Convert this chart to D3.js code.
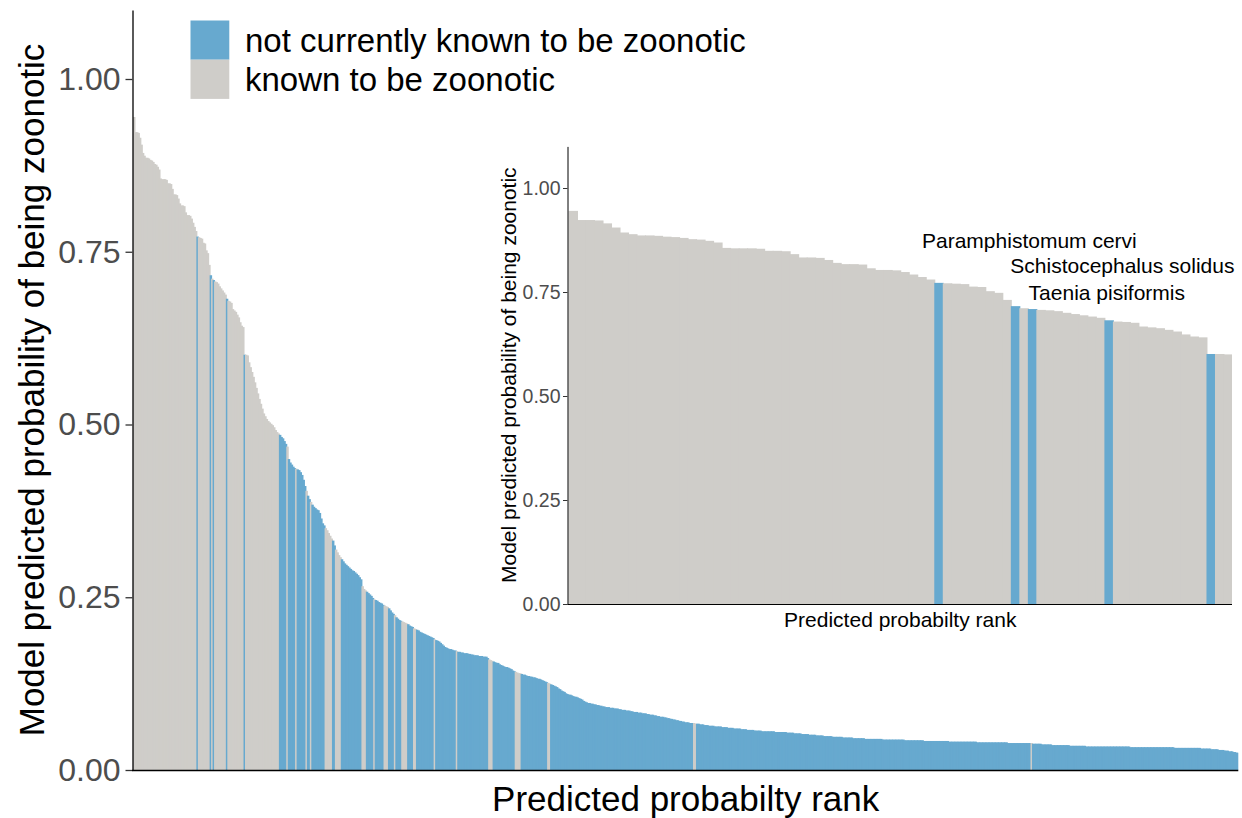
<!DOCTYPE html>
<html>
<head>
<meta charset="utf-8">
<script src="https://cdn.jsdelivr.net/npm/d3@7"></script>
<style>
  html, body { margin: 0; padding: 0; background: #ffffff; }
  svg { display: block; font-family: "Liberation Sans", Arial, Helvetica, sans-serif; }
</style>
</head>
<body>
<svg id="chart" width="1242" height="818"></svg>
<script>
// ---------------- DATA ----------------
// Model predicted probability of being zoonotic, ordered by rank (0 = highest)
const probs = [
 .945,.923,.923,.922,.915,.905,.893,.889,.886,.886,
 .885,.883,.882,.880,.877,.876,.873,.869,.856,.855,
 .855,.855,.854,.849,.849,.848,.841,.833,.833,.832,
 .827,.820,.817,.817,.816,.807,.803,.803,.802,.798,
 .792,.786,.780,.772,.771,.770,.769,.763,.762,.752,
 .748,.731,.716,.711,.709,.707,.706,.704,.700,.697,
 .694,.691,.688,.682,.679,.678,.676,.667,.665,.663,
 .659,.655,.648,.643,.641,.601,.601,.600,.590,.583,
 .576,.569,.561,.553,.545,.537,.530,.523,.516,.512,
 .508,.505,.503,.501,.499,.496,.492,.489,.487,.485,
 .482,.480,.476,.472,.468,.450,.445,.442,.439,.437,
 .436,.435,.434,.431,.427,.420,.411,.404,.397,.392,
 .388,.384,.381,.379,.377,.376,.372,.364,.357,.354,
 .350,.347,.343,.339,.335,.332,.325,.319,.315,.311,
 .308,.305,.302,.299,.297,.295,.293,.291,.289,.288,
 .286,.284,.282,.279,.276,.266,.262,.260,.258,.256,
 .254,.252,.249,.247,.246,.245,.243,.242,.241,.239,
 .238,.237,.236,.234,.231,.228,.226,.224,.221,.219,
 .217,.216,.215,.214,.213,.212,.211,.209,.208,.207,
 .205,.204,.203,.202,.200,.199,.198,.197,.196,.195,
 .194,.193,.192,.191,.189,.188,.187,.186,.184,.182,
 .180,.178,.177,.176,.175,.175,.174,.173,.173,.172,
 .171,.171,.170,.170,.169,.169,.169,.168,.168,.167,
 .167,.166,.166,.166,.165,.165,.165,.164,.164,.164,
 .162,.160,.159,.158,.157,.156,.155,.155,.153,.152,
 .151,.150,.149,.149,.148,.147,.146,.144,.143,.142,
 .141,.140,.140,.139,.138,.138,.137,.136,.136,.135,
 .135,.134,.134,.133,.132,.132,.131,.130,.129,.128,
 .127,.126,.125,.124,.123,.122,.121,.120,.118,.117,
 .115,.114,.113,.111,.110,.109,.109,.108,.107,.106,
 .106,.105,.104,.103,.102,.100,.099,.098,.097,.097,
 .096,.096,.095,.095,.094,.094,.093,.093,.092,.092,
 .091,.091,.091,.090,.090,.090,.089,.089,.089,.088,
 .088,.087,.087,.087,.086,.086,.086,.085,.085,.084,
 .084,.084,.083,.083,.083,.082,.082,.082,.081,.081,
 .080,.080,.080,.079,.079,.078,.078,.077,.077,.077,
 .076,.076,.075,.075,.074,.074,.073,.073,.072,.072,
 .071,.071,.070,.070,.069,.069,.069,.068,.068,.068,
 .068,.067,.067,.067,.066,.066,.066,.065,.065,.065,
 .064,.064,.064,.064,.063,.063,.063,.063,.063,.062,
 .062,.062,.062,.061,.061,.061,.061,.060,.060,.060,
 .060,.060,.059,.059,.059,.059,.058,.058,.058,.058,
 .058,.057,.057,.057,.057,.057,.056,.056,.056,.056,
 .056,.056,.056,.056,.056,.055,.055,.055,.055,.055,
 .055,.055,.055,.054,.054,.054,.054,.054,.053,.053,
 .053,.053,.053,.052,.052,.052,.052,.052,.051,.051,
 .051,.051,.051,.050,.050,.050,.050,.050,.049,.049,
 .049,.049,.049,.049,.048,.048,.048,.048,.048,.048,
 .048,.047,.047,.047,.047,.047,.047,.047,.046,.046,
 .046,.046,.046,.046,.046,.046,.045,.045,.045,.045,
 .045,.045,.045,.045,.045,.045,.045,.045,.044,.044,
 .044,.044,.044,.044,.044,.044,.044,.044,.044,.044,
 .044,.044,.044,.043,.043,.043,.043,.043,.043,.043,
 .043,.043,.043,.043,.043,.043,.042,.042,.042,.042,
 .042,.042,.042,.042,.042,.042,.042,.042,.042,.042,
 .042,.042,.042,.041,.041,.041,.041,.041,.041,.041,
 .041,.041,.041,.041,.041,.041,.041,.041,.041,.041,
 .041,.041,.040,.040,.040,.040,.040,.040,.040,.040,
 .040,.040,.040,.040,.040,.040,.040,.040,.040,.040,
 .040,.040,.040,.039,.039,.039,.039,.039,.039,.039,
 .039,.039,.039,.039,.039,.039,.039,.039,.039,.039,
 .038,.038,.038,.038,.038,.038,.037,.037,.037,.037,
 .037,.037,.037,.036,.036,.036,.036,.036,.036,.036,
 .036,.036,.036,.036,.036,.035,.035,.035,.035,.035,
 .035,.035,.035,.035,.035,.035,.034,.034,.034,.034,
 .034,.034,.034,.034,.034,.034,.034,.034,.034,.034,
 .034,.034,.034,.034,.034,.034,.034,.034,.034,.034,
 .034,.034,.034,.034,.034,.034,.033,.033,.033,.033,
 .033,.033,.033,.033,.033,.033,.033,.033,.033,.033,
 .033,.033,.033,.033,.033,.033,.033,.033,.033,.033,
 .033,.033,.033,.033,.033,.033,.032,.032,.032,.032,
 .032,.032,.032,.032,.032,.032,.032,.032,.032,.032,
 .032,.032,.032,.032,.031,.031,.031,.031,.031,.031,
 .031,.030,.030,.030,.030,.030,.029,.029,.029,.029,
 .028,.028,.028,.027,.027,.027,.026,.026,.025,.025
];

// Ranks (inclusive runs) of parasites that are known to be zoonotic; all others are not currently known
const knownRuns = [
 [0,42],[44,51],[53,53],[55,62],[64,74],[76,98],
 [104,104],[110,110],[117,117],[120,120],[130,134],[137,140],
 [155,157],[163,163],[170,172],[177,177],[182,185],[190,191],
 [204,204],[219,219],[241,243],[259,262],[281,282],[380,381],[609,609]
];

const categories = ["not currently known to be zoonotic", "known to be zoonotic"];
const categoryColors = ["#67a9cf", "#cfcdc9"];

const yTicks = [0, 0.25, 0.5, 0.75, 1.0];
const yTickLabels = ["0.00", "0.25", "0.50", "0.75", "1.00"];

const insetCount = 78;  // the inset shows the top-ranked parasites
const insetLabels = ["Paramphistomum cervi", "Schistocephalus solidus", "Taenia pisiformis"];
const insetLabelRanks = [43, 52, 54];

const xTitle = "Predicted probabilty rank";
const yTitle = "Model predicted probability of being zoonotic";

// ---------------- BUILD ----------------
const knownSet = new Set();
knownRuns.forEach(([a, b]) => { for (let i = a; i <= b; i++) knownSet.add(i); });
const bars = probs.map((p, i) => ({ rank: i, p: p, cat: knownSet.has(i) ? categories[1] : categories[0] }));
const color = d3.scaleOrdinal().domain(categories).range(categoryColors);

const svg = d3.select("#chart");
const FONT = '"Liberation Sans", Arial, Helvetica, sans-serif';

// ---------------- MAIN PLOT ----------------
const M = { left: 133, right: 1238.3, bottom: 770, unit: 691 };
const x = d3.scaleBand().domain(bars.map(d => d.rank)).range([M.left, M.right]).padding(0);
const y = d3.scaleLinear().domain([0, 1.1]).range([M.bottom, M.bottom - 1.1 * M.unit]);

svg.append("g")
  .selectAll("rect")
  .data(bars)
  .join("rect")
  .attr("x", d => x(d.rank))
  .attr("width", (d, i) => x.bandwidth() + (i < bars.length - 1 ? 1 : 0))
  .attr("y", d => y(d.p))
  .attr("height", d => y(0) - y(d.p))
  .attr("fill", d => color(d.cat));

// y axis
const yAxis = svg.append("g")
  .attr("transform", `translate(${M.left - 0.5},0)`)
  .call(d3.axisLeft(y).tickValues(yTicks).tickFormat((d, i) => yTickLabels[i]).tickSize(7).tickPadding(5).tickSizeOuter(0));
yAxis.select(".domain").attr("stroke", "#000").attr("stroke-width", 1.3);
yAxis.selectAll(".tick line").attr("stroke", "#333").attr("stroke-width", 1.3);
yAxis.selectAll(".tick text").attr("fill", "#4d4d4d").attr("font-size", 32).attr("font-family", FONT);

// x axis (line only)
const xAxis = svg.append("g")
  .attr("transform", `translate(0,${M.bottom + 0.5})`)
  .call(d3.axisBottom(x).tickValues([]).tickSizeOuter(0));
xAxis.select(".domain").attr("stroke", "#000").attr("stroke-width", 1.3)
  .attr("d", `M${M.left - 1},0H${M.right}`);

// titles
svg.append("text")
  .attr("x", (M.left + M.right) / 2).attr("y", 811)
  .attr("text-anchor", "middle").attr("font-size", 35).attr("fill", "#000")
  .text(xTitle);
svg.append("text")
  .attr("transform", `translate(44,${(y(0) + y(1.1)) / 2}) rotate(-90)`)
  .attr("text-anchor", "middle").attr("font-size", 35).attr("fill", "#000")
  .text(yTitle);

// legend
const legend = svg.append("g").attr("transform", "translate(190.5,20.5)");
const keyH = 39.2, keyW = 38.8;
categories.forEach((c, i) => {
  legend.append("rect").attr("x", 0).attr("y", i * keyH).attr("width", keyW).attr("height", keyH)
    .attr("fill", color(c));
  legend.append("text").attr("x", 54.5).attr("y", i * keyH + keyH / 2 + 11.5)
    .attr("font-size", 33).attr("fill", "#000").text(c);
});

// ---------------- INSET ----------------
const insetBars = bars.slice(0, insetCount);
const I = { left: 567.5, right: 1232, bottom: 604, unit: 416 };
const xi = d3.scaleBand().domain(insetBars.map(d => d.rank)).range([I.left + 1, I.right]).padding(0);
const yi = d3.scaleLinear().domain([0, 1.1]).range([I.bottom, I.bottom - 1.1 * I.unit]);

svg.append("g")
  .selectAll("rect")
  .data(insetBars)
  .join("rect")
  .attr("x", d => xi(d.rank))
  .attr("width", (d, i) => xi.bandwidth() + (i < insetBars.length - 1 ? 1 : 0))
  .attr("y", d => yi(d.p))
  .attr("height", d => yi(0) - yi(d.p))
  .attr("fill", d => color(d.cat));

const yiAxis = svg.append("g")
  .attr("transform", `translate(${I.left},0)`)
  .call(d3.axisLeft(yi).tickValues(yTicks).tickFormat((d, i) => yTickLabels[i]).tickSize(4.5).tickPadding(2.5).tickSizeOuter(0));
yiAxis.select(".domain").attr("stroke", "#000").attr("stroke-width", 1);
yiAxis.selectAll(".tick line").attr("stroke", "#333");
yiAxis.selectAll(".tick text").attr("fill", "#4d4d4d").attr("font-size", 19.5).attr("font-family", FONT);

const xiAxis = svg.append("g")
  .attr("transform", `translate(0,${I.bottom + 0.5})`)
  .call(d3.axisBottom(xi).tickValues([]).tickSizeOuter(0));
xiAxis.select(".domain").attr("stroke", "#000").attr("stroke-width", 1)
  .attr("d", `M${I.left},0H${I.right}`);

svg.append("text")
  .attr("x", (I.left + I.right) / 2 + 0.5).attr("y", 627)
  .attr("text-anchor", "middle").attr("font-size", 21).attr("fill", "#000")
  .text(xTitle);
svg.append("text")
  .attr("transform", `translate(516,${(yi(0) + yi(1.1)) / 2}) rotate(-90)`)
  .attr("text-anchor", "middle").attr("font-size", 21).attr("fill", "#000")
  .text(yTitle);

// species labels above their bars
const labelDx = [-16.5, -4.8, -3.5];       // px offset from bar centre to text start
const labelBaseline = [248.3, 273.3, 300]; // px
insetLabels.forEach((t, k) => {
  const r = insetLabelRanks[k];
  svg.append("text")
    .attr("x", xi(r) + xi.bandwidth() / 2 + labelDx[k])
    .attr("y", labelBaseline[k])
    .attr("font-size", 21).attr("fill", "#000")
    .text(t);
});
</script>
</body>
</html>
